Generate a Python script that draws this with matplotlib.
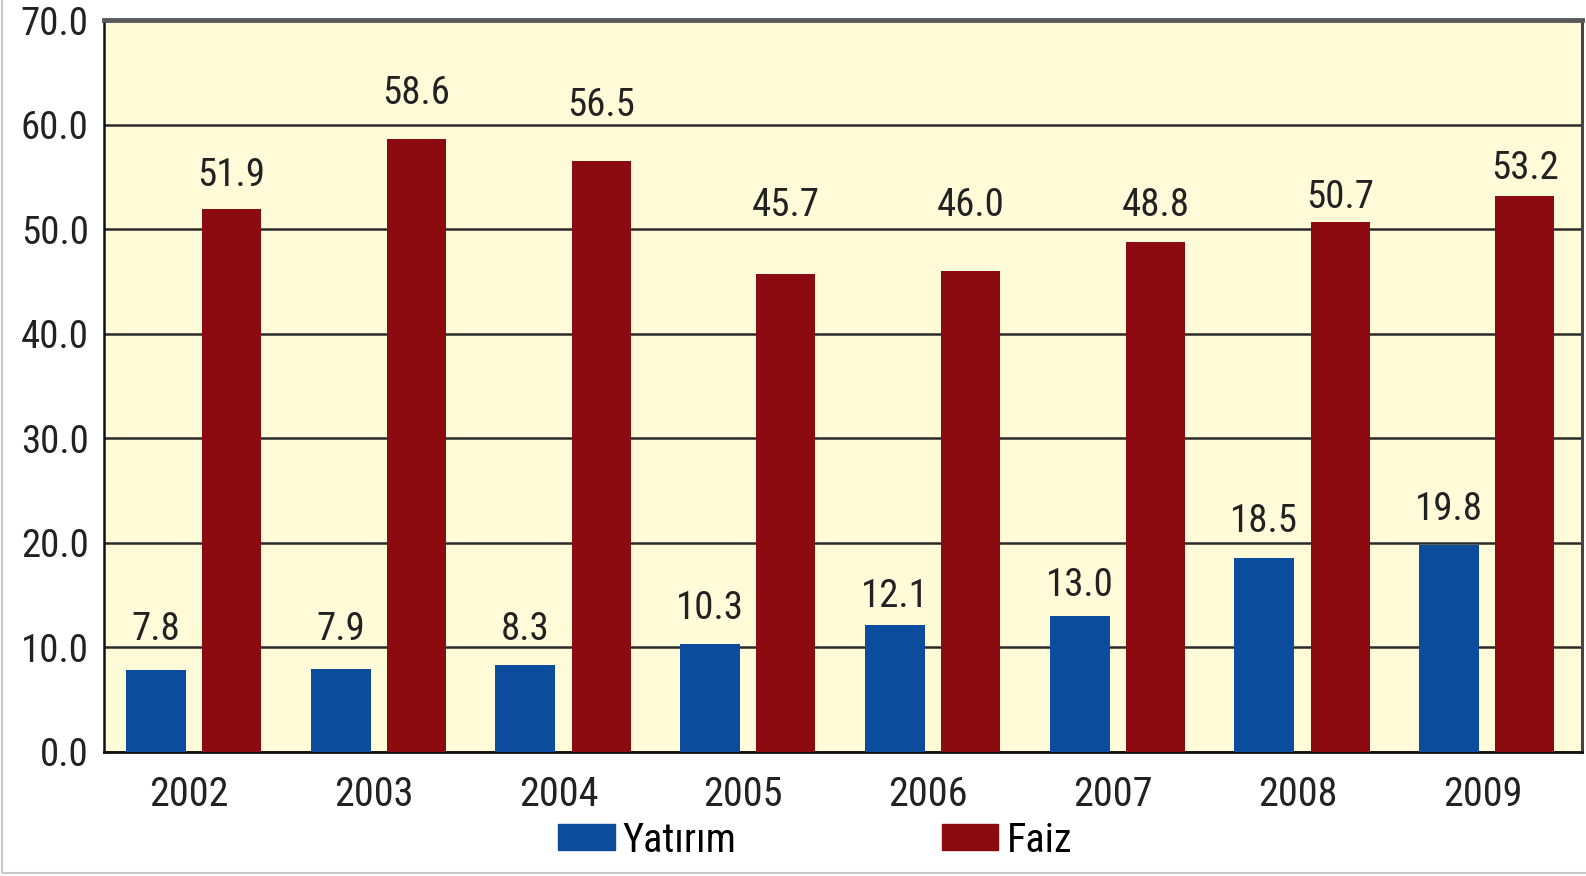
import numpy as np
import matplotlib
matplotlib.use("Agg")
import matplotlib.pyplot as plt
from matplotlib.patches import Patch, Rectangle

years = ["2002", "2003", "2004", "2005", "2006", "2007", "2008", "2009"]
yatirim = [7.8, 7.9, 8.3, 10.3, 12.1, 13.0, 18.5, 19.8]
faiz = [51.9, 58.6, 56.5, 45.7, 46.0, 48.8, 50.7, 53.2]
y_ticks = [0, 10, 20, 30, 40, 50, 60, 70]

# label heights (the source chart places them by hand, not at a fixed offset)
yatirim_lbl_y = [10.7, 10.7, 10.7, 12.7, 13.8, 14.9, 21.0, 22.2]
faiz_lbl_y = [54.1, 62.0, 60.8, 51.3, 51.3, 51.3, 52.0, 54.8]

blue = '#0b4c9c'
red = '#8b0b10'
cream = '#fffbd8'

plt.rcParams['font.family'] = ['Roboto Condensed', 'Archivo Narrow', 'DejaVu Sans']

fig = plt.figure(figsize=(15.86, 8.76), dpi=100)
ax = fig.add_axes([0.0656, 0.1419, 0.932, 0.835])
ax.set_facecolor(cream)

x = np.arange(len(years))
ax.bar(x - 0.22, yatirim, width=0.325, color=blue, zorder=3)
ax.bar(x + 0.19, faiz, width=0.32, color=red, zorder=3)

for i in range(len(years)):
    ax.text(x[i] - 0.22, yatirim_lbl_y[i], f"{yatirim[i]:.1f}", ha='center', va='baseline',
            fontsize=28, color='#222222', zorder=4)
    ax.text(x[i] + 0.19, faiz_lbl_y[i], f"{faiz[i]:.1f}", ha='center', va='baseline',
            fontsize=28, color='#222222', zorder=4)

ax.set_xlim(-0.5, len(years) - 0.5)
ax.set_ylim(0, 70)
ax.set_yticks(y_ticks)
ax.set_yticklabels([f"{v:.1f}" for v in y_ticks], fontsize=28, color='#222222')
ax.set_xticks(x - 0.04)
ax.set_xticklabels(years, fontsize=29, color='#222222')
ax.tick_params(axis='y', length=0, pad=11)
ax.tick_params(axis='x', length=0, pad=17)

ax.yaxis.grid(True, color='#2a2a2a', linewidth=1.8, zorder=1)
ax.set_axisbelow(True)

ax.spines['top'].set_color('#5a5a5a')
ax.spines['top'].set_linewidth(3.5)
ax.spines['left'].set_color('#111111')
ax.spines['left'].set_linewidth(1.8)
ax.spines['right'].set_color('#444444')
ax.spines['right'].set_linewidth(2.2)
ax.spines['bottom'].set_color('#111111')
ax.spines['bottom'].set_linewidth(2)

handles = [Patch(color=blue, label='Yatırım'), Patch(color=red, label='Faiz')]
fig.legend(handles=handles, loc='center left', bbox_to_anchor=(0.352, 0.041), ncol=2,
           frameon=False, fontsize=29, handlelength=1.4, handleheight=0.62,
           handletextpad=0.2, columnspacing=5.1, borderpad=0, borderaxespad=0)

fig.patches.append(Rectangle((0.001, 0.003), 1.2, 1.2, transform=fig.transFigure,
                             fill=False, edgecolor='#c8c8c8', linewidth=1.5))

fig.savefig("out.png", dpi=100)
